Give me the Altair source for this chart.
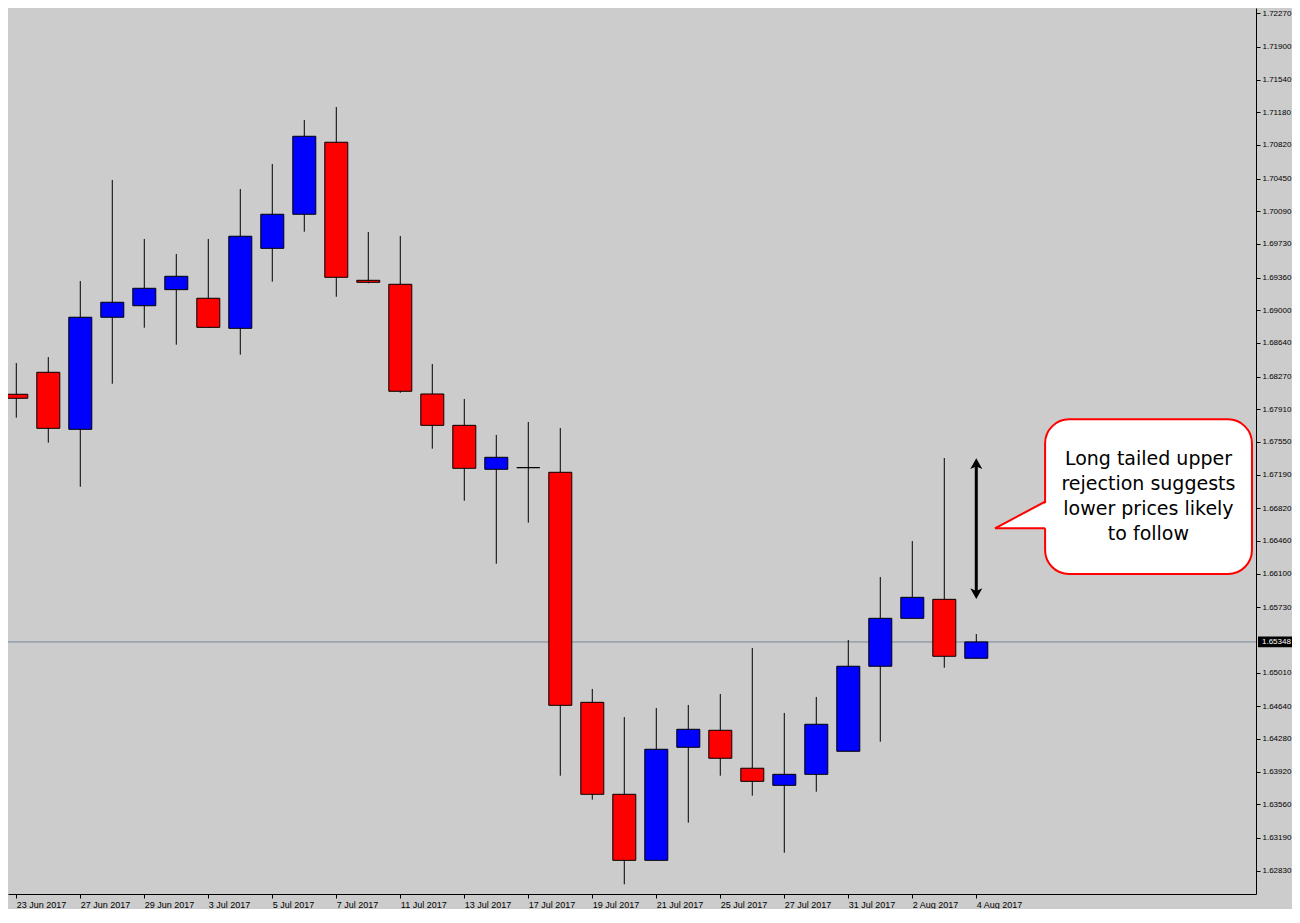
import altair as alt
import pandas as pd

# ---- data (daily candles) ----
dates = ["23 Jun 2017", "26 Jun 2017", "27 Jun 2017", "28 Jun 2017", "29 Jun 2017",
         "30 Jun 2017", "3 Jul 2017", "4 Jul 2017", "5 Jul 2017", "6 Jul 2017",
         "7 Jul 2017", "10 Jul 2017", "11 Jul 2017", "12 Jul 2017", "13 Jul 2017",
         "14 Jul 2017", "17 Jul 2017", "18 Jul 2017", "19 Jul 2017", "20 Jul 2017",
         "21 Jul 2017", "24 Jul 2017", "25 Jul 2017", "26 Jul 2017", "27 Jul 2017",
         "28 Jul 2017", "31 Jul 2017", "1 Aug 2017", "2 Aug 2017", "3 Aug 2017",
         "4 Aug 2017"]
opens = [1.68075, 1.68317, 1.67689, 1.68923, 1.69050, 1.69227, 1.69132, 1.68801,
         1.69682, 1.70057, 1.70850, 1.69330, 1.69286, 1.68078, 1.67733, 1.67249,
         1.67267, 1.67216, 1.64683, 1.63670, 1.62943, 1.64188, 1.64375, 1.63957,
         1.63769, 1.63890, 1.64144, 1.65080, 1.65608, 1.65817, 1.65168]
highs = [1.68419, 1.68485, 1.69322, 1.70434, 1.69785, 1.69620, 1.69785, 1.70335,
         1.70611, 1.71095, 1.71238, 1.69862, 1.69818, 1.68408, 1.68023, 1.67627,
         1.67770, 1.67704, 1.64830, 1.64521, 1.64620, 1.64654, 1.64775, 1.65281,
         1.64566, 1.64742, 1.65369, 1.66063, 1.66459, 1.67373, 1.65435]
lows = [1.67817, 1.67542, 1.67057, 1.68191, 1.68808, 1.68621, 1.68805, 1.68511,
        1.69315, 1.69865, 1.69149, 1.69297, 1.68092, 1.67476, 1.66903, 1.66209,
        1.66661, 1.63875, 1.63611, 1.62679, 1.62943, 1.63358, 1.63875, 1.63655,
        1.63027, 1.63699, 1.64144, 1.64249, 1.65608, 1.65064, 1.65168]
closes = [1.68031, 1.67700, 1.68923, 1.69088, 1.69242, 1.69374, 1.68812, 1.69815,
          1.70057, 1.70916, 1.69363, 1.69308, 1.68108, 1.67733, 1.67260, 1.67381,
          1.67267, 1.64650, 1.63670, 1.62943, 1.64166, 1.64386, 1.64067, 1.63813,
          1.63890, 1.64441, 1.65080, 1.65608, 1.65839, 1.65190, 1.65348]

y_ticks = [1.72270, 1.71900, 1.71540, 1.71180, 1.70820, 1.70450, 1.70090, 1.69730,
           1.69360, 1.69000, 1.68640, 1.68270, 1.67910, 1.67550, 1.67190, 1.66820,
           1.66460, 1.66100, 1.65730, 1.65010, 1.64640, 1.64280, 1.63920, 1.63560,
           1.63190, 1.62830]
current_price = [1.65348]
current_label = ["1.65348"]

# annotation (data units: candle index / price)
arrow_x = [30]
arrow_top = [1.67304]
arrow_bottom = [1.65887]
box_x = [32.15]
box_x2 = [38.615]
box_top = [1.67799]
box_bottom = [1.66096]
pointer_x = [30.584, 32.25]
pointer_top = [1.66599, 1.66892]
pointer_base = [1.66599, 1.66599]
edge_x = [30.584, 32.15, 30.584, 32.15]
edge_y = [1.66599, 1.66892, 1.66599, 1.66599]
edge_id = ["a", "a", "b", "b"]
callout_lines = ["Long tailed upper", "rejection suggests", "lower prices likely", "to follow"]
callout_y = [1.67362, 1.67087, 1.66812, 1.66537]
callout_x = 35.38

X_DOMAIN = [-0.259, 38.741]
Y_DOMAIN = [1.625723, 1.723284]
BG = "#CCCCCC"
FONT = "Liberation Sans"
PLOT_W = 1248
PLOT_H = 886

# ---- tables ----
idx = list(range(len(dates)))
direction = ["up" if c > o else ("down" if c < o else "flat") for o, c in zip(opens, closes)]
candles = pd.DataFrame({"i": idx, "date": dates, "open": opens, "high": highs,
                        "low": lows, "close": closes, "dir": direction})

xs = alt.Scale(domain=X_DOMAIN, nice=False, zero=False, padding=0)
ys = alt.Scale(domain=Y_DOMAIN, nice=False, zero=False, padding=0)

label_dates = dates[::2]
label_expr = "[" + ",".join("'%s'" % d for d in label_dates) + "][round(datum.value / 2)]"

x_axis = alt.Axis(values=idx[::2], labelExpr=label_expr, labelAlign="left",
                  labelBaseline="top", labelPadding=2, tickSize=4, tickColor="black",
                  domainColor="black", labelColor="black", labelFont=FONT,
                  labelFontSize=9, grid=False, title=None, labelOverlap=False,
                  labelFlush=False)
y_axis = alt.Axis(orient="right", values=y_ticks, format=".5f", labelAlign="left",
                  labelPadding=2, tickSize=4, tickColor="black", domainColor="black",
                  labelColor="black", labelFont=FONT, labelFontSize=8, grid=False,
                  title=None, labelOverlap=False, labelFlush=False)


def X(field):
    return alt.X(field, scale=xs, axis=x_axis)


def Y(field):
    return alt.Y(field, scale=ys, axis=y_axis)


base = alt.Chart(candles)

price_line = alt.Chart(pd.DataFrame({"p": current_price})).mark_rule(
    color="#778899", strokeWidth=1
).encode(y=Y("p:Q"))

wicks = base.mark_rule(color="black", strokeWidth=1).encode(
    x=X("i:Q"), y=Y("low:Q"), y2="high:Q",
)

bodies = base.mark_bar(size=23, stroke="black", strokeWidth=1).encode(
    x=X("i:Q"), y=Y("open:Q"), y2="close:Q",
    color=alt.Color("dir:N", scale=alt.Scale(domain=["up", "down", "flat"],
                                             range=["#0000FF", "#FF0000", "#000000"]),
                    legend=None),
)

arrow_df = pd.DataFrame({"x": arrow_x, "top": arrow_top, "bottom": arrow_bottom})
arrow_shaft = alt.Chart(arrow_df).mark_rule(color="black", strokeWidth=3).encode(
    x=X("x:Q"), y=Y("top:Q"), y2="bottom:Q",
)
head_up = alt.Chart(arrow_df).mark_point(
    shape="M0,-1L1,0.8L0,0.35L-1,0.8Z", size=144, filled=True, color="black", opacity=1
).encode(x=X("x:Q"), y=Y("top:Q"))
head_down = alt.Chart(arrow_df).mark_point(
    shape="M0,1L1,-0.8L0,-0.35L-1,-0.8Z", size=144, filled=True, color="black", opacity=1
).encode(x=X("x:Q"), y=Y("bottom:Q"))

box = alt.Chart(pd.DataFrame({"x": box_x, "x2": box_x2, "t": box_top, "b": box_bottom})).mark_rect(
    fill="white", stroke="#FF0000", strokeWidth=2, cornerRadius=24
).encode(x=X("x:Q"), x2="x2:Q", y=Y("t:Q"), y2="b:Q")

pointer = alt.Chart(pd.DataFrame({"x": pointer_x, "t": pointer_top, "b": pointer_base})).mark_area(
    color="white", opacity=1
).encode(x=X("x:Q"), y=Y("t:Q"), y2="b:Q")

edges = alt.Chart(pd.DataFrame({"x": edge_x, "y": edge_y, "id": edge_id})).mark_line(
    color="#FF0000", strokeWidth=2
).encode(x=X("x:Q"), y=Y("y:Q"), detail="id:N")

callout_text = alt.Chart(pd.DataFrame({"t": callout_lines, "y": callout_y,
                                       "x": [callout_x] * len(callout_lines)})).mark_text(
    font="DejaVu Sans", fontSize=19, color="black", align="center", baseline="middle"
).encode(x=X("x:Q"), y=Y("y:Q"), text="t:N")

cp_df = pd.DataFrame({"p": current_price, "lo": [current_price[0] - 0.0006],
                      "hi": [current_price[0] + 0.0006], "t": current_label})
cp_box = alt.Chart(cp_df).mark_rect(color="black").encode(
    x=alt.value(PLOT_W + 2), x2=alt.value(PLOT_W + 36), y=Y("lo:Q"), y2="hi:Q",
)
cp_text = alt.Chart(cp_df).mark_text(
    font=FONT, fontSize=8, color="white", align="left", baseline="middle"
).encode(x=alt.value(PLOT_W + 6), y=Y("p:Q"), text="t:N")

chart = alt.layer(
    price_line, wicks, bodies, arrow_shaft, head_up, head_down,
    box, pointer, edges, callout_text, cp_box, cp_text
).properties(
    width=PLOT_W, height=PLOT_H, background=BG,
    autosize=alt.AutoSizeParams(type="none"),
    padding={"left": 0, "top": 0, "right": 36, "bottom": 15},
).configure_view(
    fill=BG, stroke="transparent"
).configure_scale(
    continuousPadding=0
)

chart.save("out.html", embed_options={"renderer": "svg", "actions": False})
